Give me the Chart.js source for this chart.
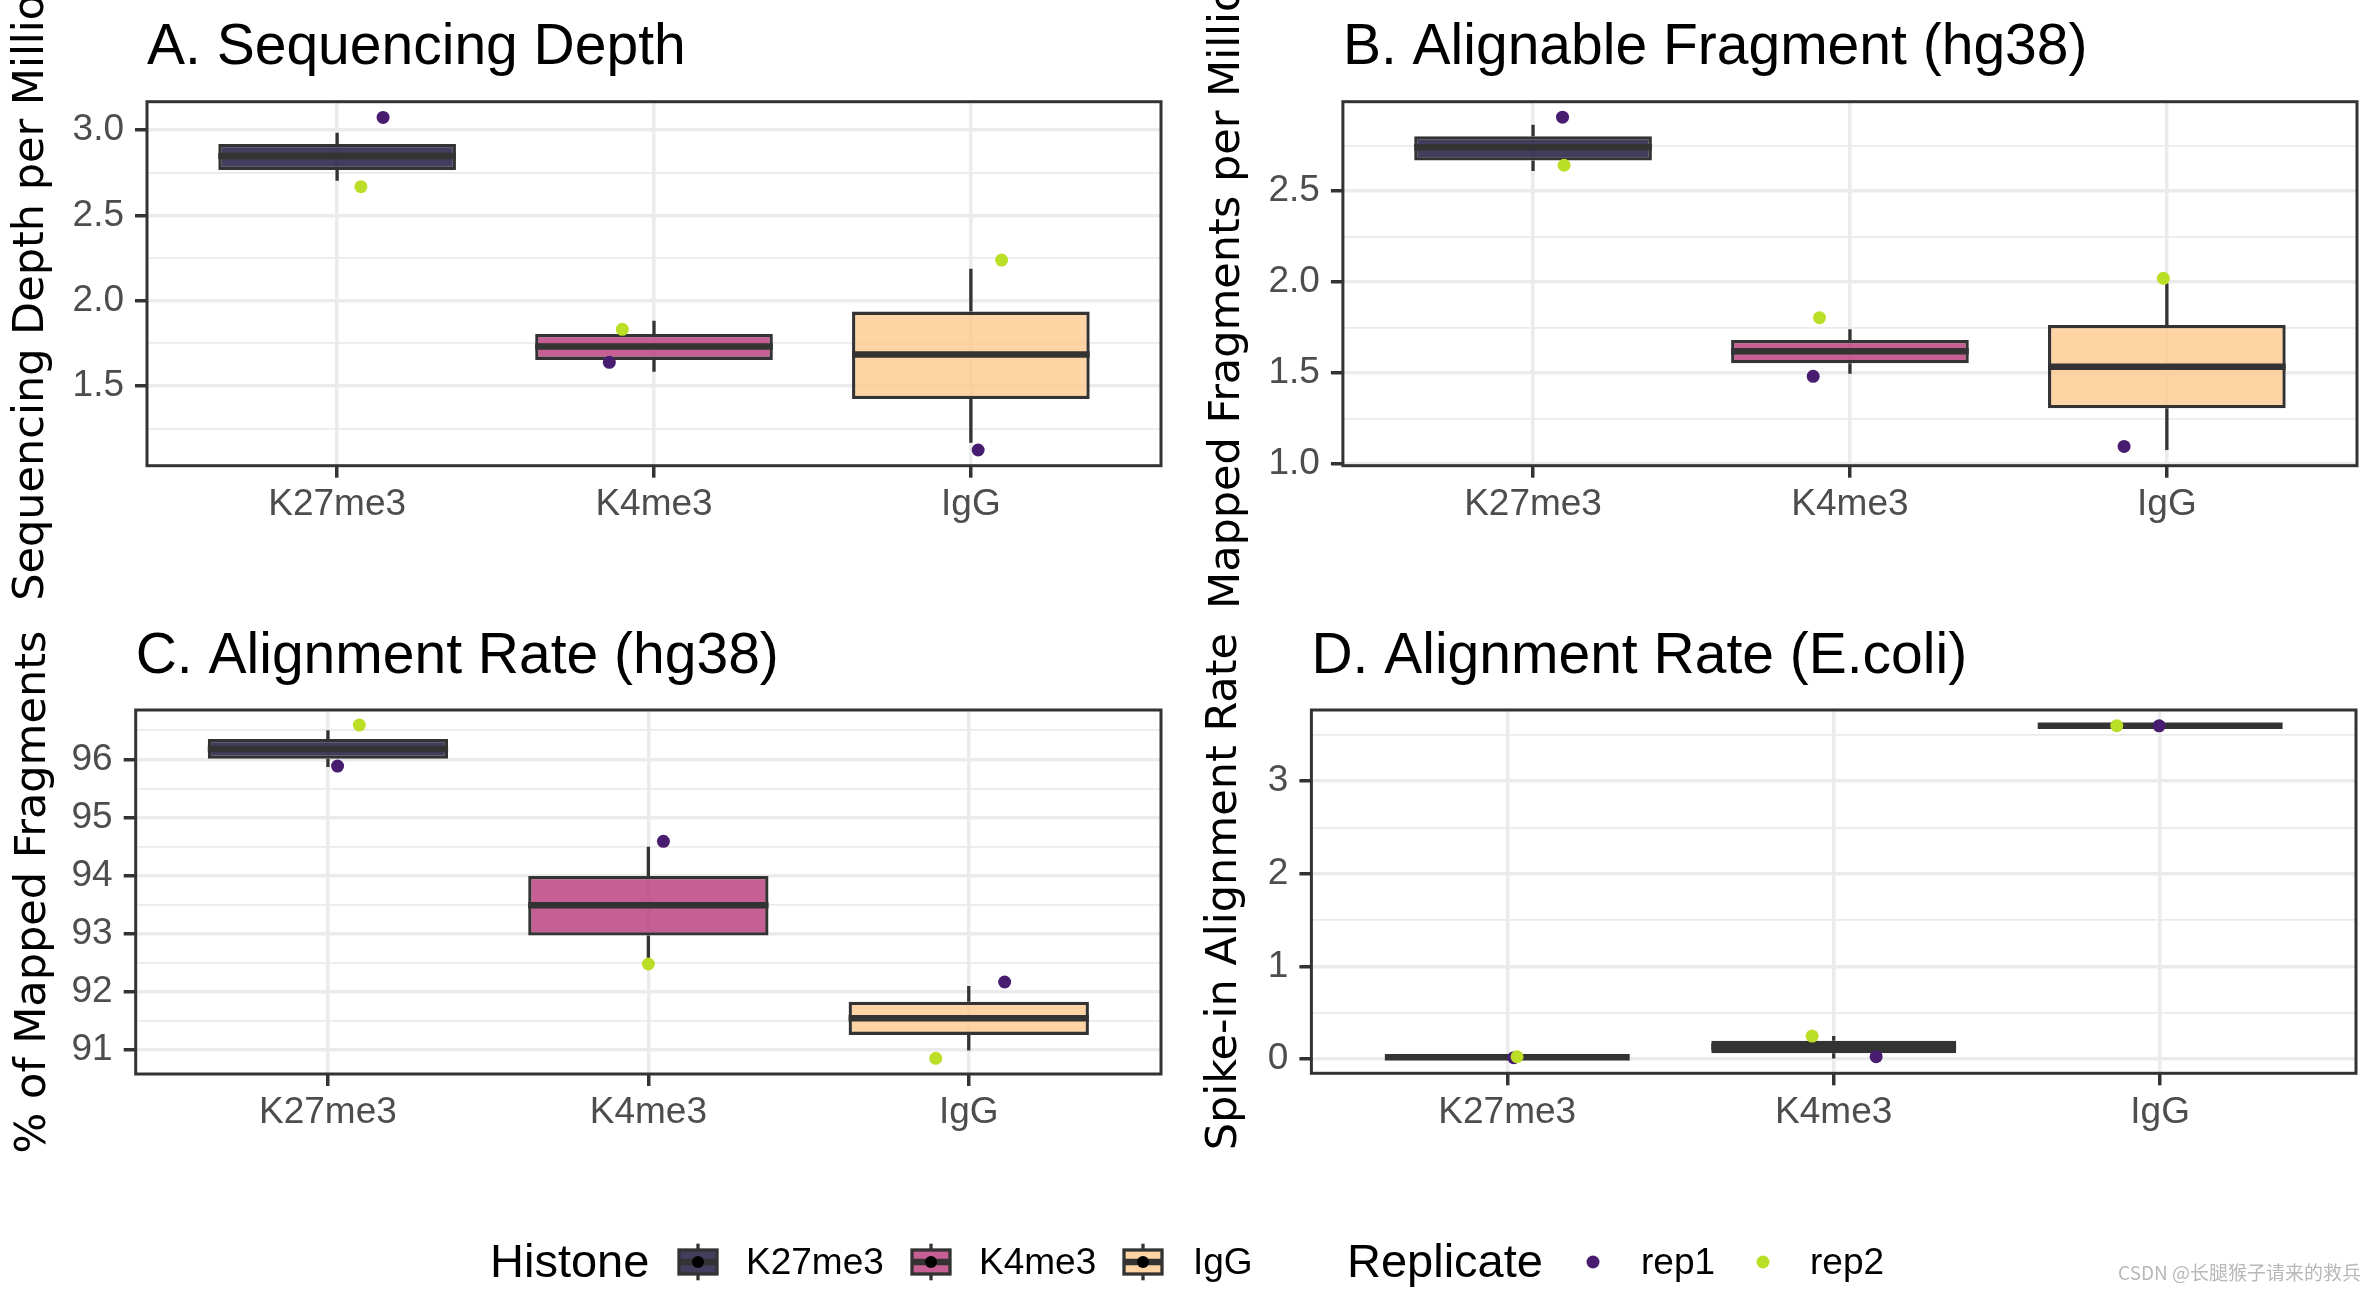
<!DOCTYPE html>
<html><head><meta charset="utf-8">
<script src="https://cdn.jsdelivr.net/npm/chart.js@4.4.0/dist/chart.umd.min.js"></script>
<style>
html,body{margin:0;padding:0;background:#fff;}
body{width:2376px;height:1292px;position:relative;overflow:hidden;}
canvas{position:absolute;}
</style></head><body>
<canvas id="cA" width="1188" height="620" style="left:0px;top:0px"></canvas>
<canvas id="cB" width="1188" height="620" style="left:1188px;top:0px"></canvas>
<canvas id="cC" width="1188" height="580" style="left:0px;top:620px"></canvas>
<canvas id="cD" width="1188" height="580" style="left:1188px;top:620px"></canvas>
<canvas id="legend" width="2376" height="92" style="left:0px;top:1200px"></canvas>
<script>
// ---------- data ----------
const categories = ['K27me3', 'K4me3', 'IgG'];
const replicates = ['rep1', 'rep2'];
const legendTitles = ['Histone', 'Replicate'];
const watermark = 'CSDN @长腿猴子请来的救兵';

// A. Sequencing Depth
const depthTitle = 'A. Sequencing Depth';
const depthAxisTitle = 'Sequencing Depth per Million';
const depthLow    = [2.703, 1.584, 1.168];
const depthQ1     = [2.766, 1.653, 1.424];
const depthMedian = [2.848, 1.731, 1.684];
const depthQ3     = [2.918, 1.805, 1.936];
const depthHigh   = [2.984, 1.883, 2.187];
const depthRep1   = [3.074, 1.639, 1.125];
const depthRep2   = [2.668, 1.832, 2.238];
const depthRep1Jitter = [0.145, -0.141, 0.023];
const depthRep2Jitter = [0.075, -0.100, 0.097];
const depthTicks = [1.5, 2.0, 2.5, 3.0];
const depthTickLabels = ['1.5', '2.0', '2.5', '3.0'];
const depthMinorTicks = [1.25, 1.75, 2.25, 2.75];

// B. Alignable Fragment (hg38)
const alignTitle = 'B. Alignable Fragment (hg38)';
const alignAxisTitle = 'Mapped Fragments per Million';
const alignLow    = [2.610, 1.496, 1.077];
const alignQ1     = [2.667, 1.553, 1.306];
const alignMedian = [2.740, 1.619, 1.535];
const alignQ3     = [2.800, 1.681, 1.764];
const alignHigh   = [2.863, 1.740, 1.993];
const alignRep1   = [2.905, 1.482, 1.097];
const alignRep2   = [2.641, 1.804, 2.020];
const alignRep1Jitter = [0.093, -0.116, -0.135];
const alignRep2Jitter = [0.098, -0.096, -0.011];
const alignTicks = [1.0, 1.5, 2.0, 2.5];
const alignTickLabels = ['1.0', '1.5', '2.0', '2.5'];
const alignMinorTicks = [1.25, 1.75, 2.25, 2.75];

// C. Alignment Rate (hg38)
const rateTitle = 'C. Alignment Rate (hg38)';
const rateAxisTitle = '% of Mapped Fragments';
const rateLow    = [95.87, 92.49, 90.99];
const rateQ1     = [96.01, 92.97, 91.26];
const rateMedian = [96.18, 93.49, 91.545];
const rateQ3     = [96.35, 93.993, 91.83];
const rateHigh   = [96.50, 94.497, 92.10];
const rateRep1   = [95.885, 94.59, 92.17];
const rateRep2   = [96.59, 92.48, 90.857];
const rateRep1Jitter = [0.030, 0.047, 0.112];
const rateRep2Jitter = [0.098, 0.000, -0.103];
const rateTicks = [91, 92, 93, 94, 95, 96];
const rateTickLabels = ['91', '92', '93', '94', '95', '96'];
const rateMinorTicks = [91.5, 92.5, 93.5, 94.5, 95.5, 96.5];

// D. Alignment Rate (E.coli)
const spikeTitle = 'D. Alignment Rate (E.coli)';
const spikeAxisTitle = 'Spike-in Alignment Rate';
const spikeLow    = [0.018, 0.005, 3.596];
const spikeQ1     = [0.018, 0.063, 3.597];
const spikeMedian = [0.020, 0.132, 3.599];
const spikeQ3     = [0.022, 0.197, 3.601];
const spikeHigh   = [0.022, 0.248, 3.602];
const spikeRep1   = [0.015, 0.026, 3.598];
const spikeRep2   = [0.025, 0.248, 3.600];
const spikeRep1Jitter = [0.020, 0.130, -0.003];
const spikeRep2Jitter = [0.030, -0.066, -0.133];
const spikeTicks = [0, 1, 2, 3];
const spikeTickLabels = ['0', '1', '2', '3'];
const spikeMinorTicks = [0.5, 1.5, 2.5, 3.5];

// ---------- styles ----------
const histoneFill = ['rgba(20,14,54,0.8)', 'rgba(183,55,121,0.8)', 'rgba(254,201,141,0.8)'];
const repColors = ['#481D6F', '#BBDF27'];
const DARK = '#333333';
const GRID = '#EBEBEB';
const SANS = '"Liberation Sans", Arial, Helvetica, sans-serif';

function boxPlugin() {
  return {
    id: 'boxExtras',
    afterDatasetDraw(chart, args) {
      if (args.index !== 0) return;
      const st = chart.data.datasets[0].stats;
      const ys = chart.scales.y, ctx = chart.ctx, a = chart.chartArea;
      ctx.save();
      ctx.beginPath(); ctx.rect(a.left, a.top, a.right - a.left, a.bottom - a.top); ctx.clip();
      ctx.strokeStyle = DARK;
      args.meta.data.forEach((bar, i) => {
        const x = bar.x, half = bar.width / 2;
        ctx.lineWidth = 3.3; ctx.lineCap = 'butt';
        ctx.beginPath();
        ctx.moveTo(x, ys.getPixelForValue(st.q3[i])); ctx.lineTo(x, ys.getPixelForValue(st.high[i]));
        ctx.moveTo(x, ys.getPixelForValue(st.q1[i])); ctx.lineTo(x, ys.getPixelForValue(st.low[i]));
        ctx.stroke();
        const ym = ys.getPixelForValue(st.median[i]);
        ctx.lineWidth = 6.5;
        ctx.beginPath(); ctx.moveTo(x - half, ym); ctx.lineTo(x + half, ym); ctx.stroke();
      });
      ctx.restore();
    }
  };
}
function framePlugin(title, baseline) {
  return {
    id: 'frameTitle',
    afterDatasetsDraw(chart) {
      const ctx = chart.ctx, a = chart.chartArea;
      ctx.save();
      ctx.strokeStyle = DARK; ctx.lineWidth = 3;
      ctx.strokeRect(a.left, a.top, a.right - a.left, a.bottom - a.top);
      ctx.restore();
    },
    afterDraw(chart) {
      const ctx = chart.ctx, a = chart.chartArea;
      ctx.save();
      ctx.fillStyle = '#000000';
      ctx.font = '57px ' + SANS;
      ctx.textBaseline = 'alphabetic'; ctx.textAlign = 'left';
      ctx.fillText(title, a.left, baseline);
      ctx.restore();
    }
  };
}

function makePanel(id, cfg) {
  const majors = new Set(cfg.ticks);
  const allTicks = cfg.ticks.concat(cfg.minor).sort((p, q) => p - q);
  return new Chart(document.getElementById(id), {
    type: 'scatter',
    data: {
      datasets: [
        {
          type: 'bar', label: 'box', order: 3,
          stats: { low: cfg.low, q1: cfg.q1, median: cfg.median, q3: cfg.q3, high: cfg.high },
          data: categories.map((c, i) => ({ x: i, y: [cfg.q1[i], cfg.q3[i]] })),
          backgroundColor: histoneFill, borderColor: DARK, borderWidth: 3.3,
          borderSkipped: false, barPercentage: 0.75, categoryPercentage: 1.0
        },
        {
          type: 'scatter', label: replicates[0], order: 2,
          data: categories.map((c, i) => ({ x: i + cfg.j1[i], y: cfg.r1[i] })),
          backgroundColor: repColors[0], borderWidth: 0, pointRadius: 6.5
        },
        {
          type: 'scatter', label: replicates[1], order: 1,
          data: categories.map((c, i) => ({ x: i + cfg.j2[i], y: cfg.r2[i] })),
          backgroundColor: repColors[1], borderWidth: 0, pointRadius: 6.5
        }
      ]
    },
    options: {
      responsive: false, animation: false, events: [],
      layout: { padding: { left: 0, top: cfg.padTop, right: cfg.padRight, bottom: 0 } },
      plugins: { legend: { display: false }, tooltip: { enabled: false }, title: { display: false } },
      scales: {
        x: {
          type: 'linear', min: -0.6, max: 2.6, bounds: 'data', offset: false,
          afterBuildTicks: s => { s.ticks = categories.map((c, i) => ({ value: i })); },
          afterFit: s => { s.height = cfg.xHeight; },
          ticks: {
            autoSkip: false, maxRotation: 0, minRotation: 0, padding: 5, color: '#4D4D4D',
            font: { family: SANS, size: 37 },
            callback: v => categories[Math.round(v)]
          },
          grid: { offset: false, color: GRID, lineWidth: 3.5, tickColor: DARK, tickWidth: 3.5, tickLength: 12 },
          border: { display: false }
        },
        y: {
          type: 'linear', min: cfg.min, max: cfg.max, bounds: 'data',
          afterBuildTicks: s => { s.ticks = allTicks.map(v => ({ value: v })); },
          afterFit: s => { s.width = cfg.yWidth; },
          ticks: {
            autoSkip: false, padding: 11, color: '#4D4D4D',
            font: { family: SANS, size: 37 },
            callback: v => { const k = cfg.ticks.indexOf(v); return k >= 0 ? cfg.labels[k] : ''; }
          },
          grid: {
            color: GRID,
            lineWidth: c => (c.tick && majors.has(c.tick.value)) ? 3.5 : 1.8,
            tickColor: c => (c.tick && majors.has(c.tick.value)) ? DARK : 'rgba(0,0,0,0)',
            tickWidth: 3.5, tickLength: 12
          },
          border: { display: false },
          title: {
            display: true, text: cfg.axisTitle, color: '#000000',
            font: { family: '"DejaVu Sans", sans-serif', size: 43 },
            padding: { top: cfg.yTitlePad, bottom: 0 }
          }
        }
      }
    },
    plugins: [boxPlugin(), framePlugin(cfg.title, cfg.titleBaseline)]
  });
}

makePanel('cA', {
  title: depthTitle, axisTitle: depthAxisTitle, titleBaseline: 64,
  low: depthLow, q1: depthQ1, median: depthMedian, q3: depthQ3, high: depthHigh,
  r1: depthRep1, r2: depthRep2, j1: depthRep1Jitter, j2: depthRep2Jitter,
  ticks: depthTicks, labels: depthTickLabels, minor: depthMinorTicks,
  min: 1.033, max: 3.166,
  padTop: 101.7, padRight: 27, yWidth: 147, xHeight: 154.3, yTitlePad: 6.5
});
makePanel('cB', {
  title: alignTitle, axisTitle: alignAxisTitle, titleBaseline: 64,
  low: alignLow, q1: alignQ1, median: alignMedian, q3: alignQ3, high: alignHigh,
  r1: alignRep1, r2: alignRep2, j1: alignRep1Jitter, j2: alignRep2Jitter,
  ticks: alignTicks, labels: alignTickLabels, minor: alignMinorTicks,
  min: 0.991, max: 2.99,
  padTop: 101.7, padRight: 19, yWidth: 154.9, xHeight: 154.3, yTitlePad: 14.5
});
makePanel('cC', {
  title: rateTitle, axisTitle: rateAxisTitle, titleBaseline: 53,
  low: rateLow, q1: rateQ1, median: rateMedian, q3: rateQ3, high: rateHigh,
  r1: rateRep1, r2: rateRep2, j1: rateRep1Jitter, j2: rateRep2Jitter,
  ticks: rateTicks, labels: rateTickLabels, minor: rateMinorTicks,
  min: 90.587, max: 96.85,
  padTop: 90, padRight: 27, yWidth: 135.7, xHeight: 126, yTitlePad: 8.5
});
makePanel('cD', {
  title: spikeTitle, axisTitle: spikeAxisTitle, titleBaseline: 53,
  low: spikeLow, q1: spikeQ1, median: spikeMedian, q3: spikeQ3, high: spikeHigh,
  r1: spikeRep1, r2: spikeRep2, j1: spikeRep1Jitter, j2: spikeRep2Jitter,
  ticks: spikeTicks, labels: spikeTickLabels, minor: spikeMinorTicks,
  min: -0.154, max: 3.769,
  padTop: 90, padRight: 20, yWidth: 123.4, xHeight: 126.7, yTitlePad: 11.5
});

// ---------- legend ----------
(function drawLegend() {
  const g = document.getElementById('legend').getContext('2d');
  const cy = 62;
  g.textBaseline = 'alphabetic'; g.textAlign = 'left'; g.fillStyle = '#000';
  g.font = '47px ' + SANS;
  g.fillText(legendTitles[0], 490, 77.3);
  g.fillText(legendTitles[1], 1347, 77.3);
  const keyX = [698, 931, 1143];
  const labelX = [746, 979, 1193];
  categories.forEach((c, i) => {
    const x = keyX[i];
    g.strokeStyle = DARK; g.lineWidth = 3.3;
    g.beginPath(); g.moveTo(x, cy - 18.3); g.lineTo(x, cy + 18.3); g.stroke();
    g.fillStyle = '#fff'; g.fillRect(x - 19, cy - 12, 38, 24);
    g.fillStyle = histoneFill[i]; g.fillRect(x - 19, cy - 12, 38, 24);
    g.strokeRect(x - 19, cy - 12, 38, 24);
    g.lineWidth = 6.5;
    g.beginPath(); g.moveTo(x - 19, cy); g.lineTo(x + 19, cy); g.stroke();
    g.fillStyle = '#000';
    g.beginPath(); g.arc(x, cy, 6, 0, Math.PI * 2); g.fill();
    g.font = '37px ' + SANS;
    g.fillText(c, labelX[i], 74);
  });
  const dotX = [1593, 1763];
  const repLabelX = [1641, 1810];
  replicates.forEach((r, i) => {
    g.fillStyle = repColors[i];
    g.beginPath(); g.arc(dotX[i], cy, 6.5, 0, Math.PI * 2); g.fill();
    g.fillStyle = '#000'; g.font = '37px ' + SANS;
    g.fillText(r, repLabelX[i], 74);
  });
  g.fillStyle = '#b8b8b8';
  g.font = '19px "Noto Sans CJK SC", sans-serif';
  g.textAlign = 'right';
  g.fillText(watermark, 2361, 80);
})();
</script>
</body></html>
